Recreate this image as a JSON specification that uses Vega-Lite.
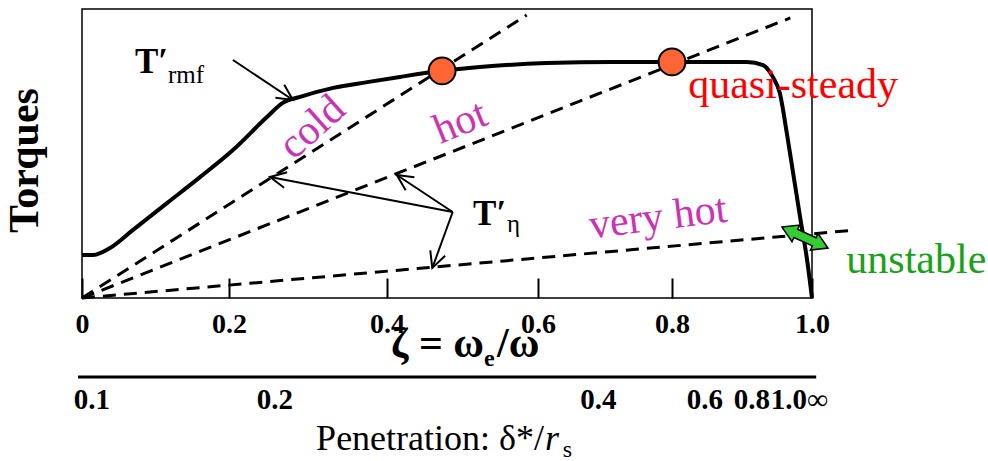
{
  "$schema": "https://vega.github.io/schema/vega-lite/v6.json",
  "width": 730,
  "height": 289,
  "autosize": {"type": "none"},
  "padding": {"left": 82, "top": 9, "right": 176, "bottom": 163},
  "background": "#ffffff",
  "config": {
    "view": {"stroke": "#000000", "strokeWidth": 1.5},
    "font": "Liberation Serif"
  },
  "datasets": {
    "rmf": [
      {"z": 0.0, "t": 0.149}, {"z": 0.015, "t": 0.149}, {"z": 0.038, "t": 0.173},
      {"z": 0.069, "t": 0.235}, {"z": 0.116, "t": 0.329}, {"z": 0.161, "t": 0.419},
      {"z": 0.205, "t": 0.512}, {"z": 0.248, "t": 0.626}, {"z": 0.268, "t": 0.675},
      {"z": 0.29, "t": 0.696}, {"z": 0.332, "t": 0.727}, {"z": 0.375, "t": 0.747},
      {"z": 0.417, "t": 0.765}, {"z": 0.473, "t": 0.786}, {"z": 0.523, "t": 0.799},
      {"z": 0.613, "t": 0.813}, {"z": 0.712, "t": 0.817}, {"z": 0.8, "t": 0.817},
      {"z": 0.907, "t": 0.817}, {"z": 0.93, "t": 0.806}, {"z": 0.944, "t": 0.765},
      {"z": 0.954, "t": 0.709}, {"z": 0.964, "t": 0.571}, {"z": 0.973, "t": 0.433},
      {"z": 0.983, "t": 0.28}, {"z": 0.993, "t": 0.131}, {"z": 1.0, "t": 0.0}
    ],
    "viscous": [
      {"regime": "cold", "z": 0.0, "t": 0.0}, {"regime": "cold", "z": 0.585, "t": 0.979},
      {"regime": "hot", "z": 0.0, "t": 0.0}, {"regime": "hot", "z": 0.969, "t": 0.969},
      {"regime": "very hot", "z": 0.0, "t": 0.0}, {"regime": "very hot", "z": 1.061, "t": 0.235}
    ],
    "equilibria": [
      {"regime": "cold", "z": 0.473, "t": 0.786},
      {"regime": "hot", "z": 0.8, "t": 0.817}
    ],
    "pointers": [
      {"label": "rmf", "z": 0.281, "t": 0.685, "z2": 0.205, "t2": 0.8235, "heading": 123.7},
      {"label": "eta", "z": 0.252, "t": 0.4187, "z2": 0.487, "t2": 0.2976, "heading": 281},
      {"label": "eta", "z": 0.413, "t": 0.4256, "z2": 0.487, "t2": 0.2976, "heading": 303.5},
      {"label": "eta", "z": 0.46, "t": 0.1038, "z2": 0.487, "t2": 0.2976, "heading": 200}
    ],
    "swing": [{"z": 0.99, "t": 0.209}],
    "notes": [
      {"key": "T", "text": "T′", "z": 0.0721, "t": 0.7785},
      {"key": "sub", "text": "rmf", "z": 0.117, "t": 0.744},
      {"key": "T", "text": "T′", "z": 0.514, "t": 0.2526},
      {"key": "sub", "text": "η", "z": 0.559, "t": 0.228},
      {"key": "cold", "text": "cold", "z": 0.305, "t": 0.592},
      {"key": "hot", "text": "hot", "z": 0.497, "t": 0.609},
      {"key": "veryhot", "text": "very hot", "z": 0.779, "t": 0.28},
      {"key": "quasi", "text": "quasi-steady", "z": 0.973, "t": 0.692},
      {"key": "unstable", "text": "unstable", "z": 1.149, "t": 0.0865},
      {"key": "zmain", "text": "ζ = ω", "z": 0.5285, "t": -0.204},
      {"key": "zsub", "text": "e", "z": 0.5285, "t": -0.235},
      {"key": "ztail", "text": "/ω", "z": 0.5457, "t": -0.204},
      {"key": "pmain", "text": "Penetration: δ*/", "z": 0.609, "t": -0.526},
      {"key": "pr", "text": "r", "z": 0.6106, "t": -0.526},
      {"key": "ps", "text": "s", "z": 0.637, "t": -0.55}
    ],
    "penetration": [
      {"label": "0.1", "z": 0.0136, "t": -0.384},
      {"label": "0.2", "z": 0.258, "t": -0.384},
      {"label": "0.4", "z": 0.69, "t": -0.384},
      {"label": "0.6", "z": 0.847, "t": -0.384},
      {"label": "0.8", "z": 0.914, "t": -0.384},
      {"label": "1.0", "z": 0.967, "t": -0.384},
      {"label": "∞", "z": 1.008, "t": -0.384}
    ],
    "penetrationLine": [{"z": -0.0054, "z2": 1.006, "t": -0.273}]
  },
  "encoding": {
    "x": {
      "field": "z", "type": "quantitative",
      "scale": {"domain": [0, 0.2, 0.4, 0.6, 0.8, 1.0], "range": [0, 147, 305, 456, 590, 730], "nice": false, "zero": false},
      "axis": {
        "title": null, "values": [0, 0.2, 0.4, 0.6, 0.8, 1.0],
        "labelExpr": "datum.value == 0 ? '0' : format(datum.value, '.1f')",
        "labelFont": "Liberation Serif", "labelFontWeight": "bold", "labelFontSize": 28, "labelColor": "#000000",
        "labelPadding": 32, "labelFlush": false, "labelOverlap": false,
        "domain": false, "grid": false,
        "tickColor": "#000000", "tickWidth": 2, "tickSize": -20
      }
    },
    "y": {
      "field": "t", "type": "quantitative",
      "scale": {"domain": [0, 1], "nice": false, "zero": false},
      "axis": {
        "title": "Torques", "titleFont": "Liberation Serif", "titleFontSize": 42, "titleFontWeight": "bold",
        "titleColor": "#000000", "titlePadding": 36, "titleY": 151,
        "labels": false, "ticks": false, "domain": false, "grid": false
      }
    }
  },
  "layer": [
    {
      "data": {"name": "viscous"},
      "mark": {"type": "line", "color": "#000000", "strokeWidth": 3, "strokeDash": [13, 8], "clip": false},
      "encoding": {"detail": {"field": "regime"}}
    },
    {
      "data": {"name": "rmf"},
      "mark": {"type": "line", "color": "#000000", "strokeWidth": 4, "interpolate": "monotone"},
      "encoding": {}
    },
    {
      "data": {"name": "equilibria"},
      "mark": {"type": "point", "shape": "circle", "size": 720, "filled": true, "fill": "#FF6633", "stroke": "#000000", "strokeWidth": 2, "opacity": 1},
      "encoding": {}
    },
    {
      "data": {"name": "pointers"},
      "mark": {"type": "rule", "color": "#000000", "strokeWidth": 2},
      "encoding": {
        "x2": {"field": "z2"},
        "y2": {"field": "t2"}
      }
    },
    {
      "data": {"name": "pointers"},
      "mark": {"type": "point", "shape": "M-0.5,1L0,0L0.5,1", "size": 1000, "filled": false, "stroke": "#000000", "strokeWidth": 2, "opacity": 1},
      "encoding": {
        "angle": {"field": "heading", "type": "quantitative", "scale": null}
      }
    },
    {
      "data": {"name": "swing"},
      "mark": {"type": "point", "shape": "M-1,0L-0.4,-0.36L-0.4,-0.18L0.4,-0.18L0.4,-0.36L1,0L0.4,0.36L0.4,0.18L-0.4,0.18L-0.4,0.36Z", "size": 2560, "angle": 24.5, "filled": true, "fill": "#33CC33", "stroke": "#000000", "strokeWidth": 1.5, "opacity": 1, "clip": false},
      "encoding": {}
    },
    {
      "data": {"name": "notes"},
      "transform": [{"filter": "datum.key == 'T'"}],
      "mark": {"type": "text", "align": "left", "baseline": "alphabetic", "fontSize": 35, "fontWeight": "bold", "font": "Liberation Serif", "color": "#000000"},
      "encoding": {"text": {"field": "text"}}
    },
    {
      "data": {"name": "notes"},
      "transform": [{"filter": "datum.key == 'sub'"}],
      "mark": {"type": "text", "align": "left", "baseline": "alphabetic", "fontSize": 25, "font": "Liberation Serif", "color": "#000000"},
      "encoding": {"text": {"field": "text"}}
    },
    {
      "data": {"name": "notes"},
      "transform": [{"filter": "datum.key == 'cold'"}],
      "mark": {"type": "text", "align": "center", "baseline": "middle", "angle": 318, "fontSize": 42, "font": "Liberation Serif", "color": "#CC33B3"},
      "encoding": {"text": {"field": "text"}}
    },
    {
      "data": {"name": "notes"},
      "transform": [{"filter": "datum.key == 'hot'"}],
      "mark": {"type": "text", "align": "center", "baseline": "middle", "angle": 338, "fontSize": 42, "font": "Liberation Serif", "color": "#CC33B3"},
      "encoding": {"text": {"field": "text"}}
    },
    {
      "data": {"name": "notes"},
      "transform": [{"filter": "datum.key == 'veryhot'"}],
      "mark": {"type": "text", "align": "center", "baseline": "middle", "angle": 353, "fontSize": 42, "font": "Liberation Serif", "color": "#CC33B3"},
      "encoding": {"text": {"field": "text"}}
    },
    {
      "data": {"name": "notes"},
      "transform": [{"filter": "datum.key == 'quasi'"}],
      "mark": {"type": "text", "align": "center", "baseline": "alphabetic", "fontSize": 42, "font": "Liberation Serif", "color": "#FF0000"},
      "encoding": {"text": {"field": "text"}}
    },
    {
      "data": {"name": "notes"},
      "transform": [{"filter": "datum.key == 'unstable'"}],
      "mark": {"type": "text", "align": "center", "baseline": "alphabetic", "fontSize": 42, "font": "Liberation Serif", "color": "#1AA01A"},
      "encoding": {"text": {"field": "text"}}
    },
    {
      "data": {"name": "notes"},
      "transform": [{"filter": "datum.key == 'zmain'"}],
      "mark": {"type": "text", "align": "right", "baseline": "alphabetic", "fontSize": 42, "fontWeight": "bold", "font": "Liberation Serif", "color": "#000000"},
      "encoding": {"text": {"field": "text"}}
    },
    {
      "data": {"name": "notes"},
      "transform": [{"filter": "datum.key == 'zsub'"}],
      "mark": {"type": "text", "align": "left", "baseline": "alphabetic", "fontSize": 24, "fontWeight": "bold", "font": "Liberation Serif", "color": "#000000"},
      "encoding": {"text": {"field": "text"}}
    },
    {
      "data": {"name": "notes"},
      "transform": [{"filter": "datum.key == 'ztail'"}],
      "mark": {"type": "text", "align": "left", "baseline": "alphabetic", "fontSize": 42, "fontWeight": "bold", "font": "Liberation Serif", "color": "#000000"},
      "encoding": {"text": {"field": "text"}}
    },
    {
      "data": {"name": "notes"},
      "transform": [{"filter": "datum.key == 'pmain'"}],
      "mark": {"type": "text", "align": "right", "baseline": "alphabetic", "fontSize": 36, "font": "Liberation Serif", "color": "#000000"},
      "encoding": {"text": {"field": "text"}}
    },
    {
      "data": {"name": "notes"},
      "transform": [{"filter": "datum.key == 'pr'"}],
      "mark": {"type": "text", "align": "left", "baseline": "alphabetic", "fontSize": 36, "fontStyle": "italic", "font": "Liberation Serif", "color": "#000000"},
      "encoding": {"text": {"field": "text"}}
    },
    {
      "data": {"name": "notes"},
      "transform": [{"filter": "datum.key == 'ps'"}],
      "mark": {"type": "text", "align": "left", "baseline": "alphabetic", "fontSize": 24, "font": "Liberation Serif", "color": "#000000"},
      "encoding": {"text": {"field": "text"}}
    },
    {
      "data": {"name": "penetrationLine"},
      "mark": {"type": "rule", "color": "#000000", "strokeWidth": 3},
      "encoding": {"x2": {"field": "z2"}}
    },
    {
      "data": {"name": "penetration"},
      "mark": {"type": "text", "align": "center", "baseline": "alphabetic", "fontSize": 29, "fontWeight": "bold", "font": "Liberation Serif", "color": "#000000"},
      "encoding": {"text": {"field": "label"}}
    }
  ]
}
